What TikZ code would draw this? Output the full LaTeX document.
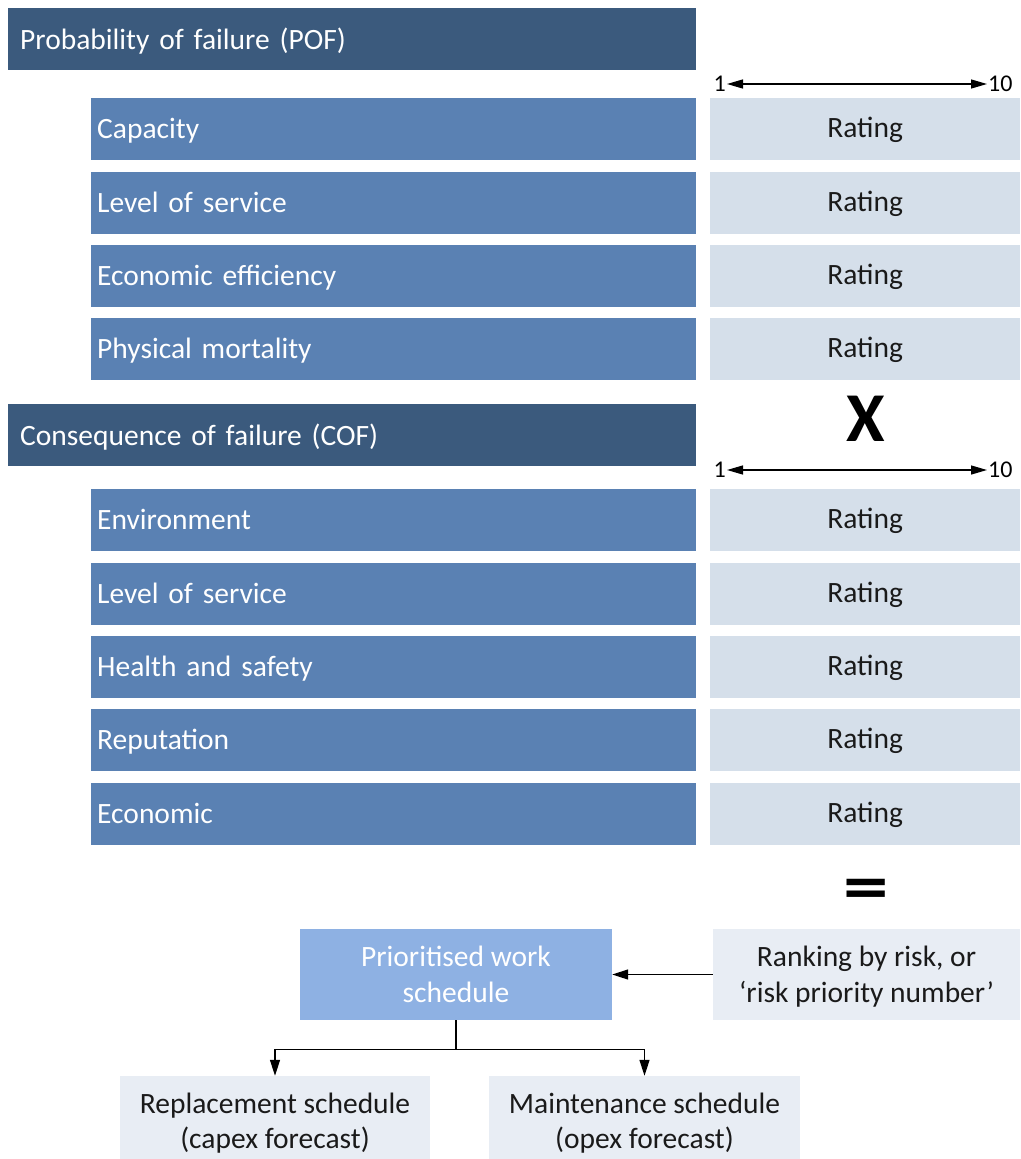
\documentclass[tikz,border=0pt]{standalone}
\usepackage{fontspec}
\setmainfont{Carlito}
\usetikzlibrary{arrows.meta}
\definecolor{hdrblue}{HTML}{3B5A7D}
\definecolor{itemblue}{HTML}{5A81B3}
\definecolor{ratingbg}{HTML}{D5DFEA}
\definecolor{prioblue}{HTML}{8EB1E3}
\definecolor{paleblue}{HTML}{E8EDF4}
\definecolor{inkgray}{HTML}{1A1A1A}
\tikzset{
  header/.style={fill=hdrblue, text=white, anchor=north west, minimum height=62pt,
    text width=664pt, inner xsep=12pt, inner ysep=0pt, align=left,
    text height=24pt, text depth=4pt, font=\fontsize{29.5}{34}\selectfont},
  itembox/.style={fill=itemblue, text=white, anchor=north west, minimum height=62pt,
    text width=593pt, inner xsep=6pt, inner ysep=0pt, align=left,
    text height=22pt, text depth=4pt, font=\fontsize{29.5}{34}\selectfont},
  ratingbox/.style={fill=ratingbg, text=inkgray, anchor=north west, minimum height=62pt,
    minimum width=310pt, inner sep=0pt, text height=20pt, text depth=4pt,
    font=\fontsize{29.5}{34}\selectfont},
  scalelbl/.style={text=black, inner sep=1pt, font=\fontsize{24}{28}\selectfont},
  opsign/.style={text=black, inner sep=0pt, font=\fontsize{70}{70}\selectfont\bfseries},
  conn/.style={draw=black, line width=1.3pt},
  tip/.style={-{Triangle[length=16pt,width=10pt]}},
  twotips/.style={{Triangle[length=16pt,width=9pt]}-{Triangle[length=16pt,width=9pt]}},
  lightbox/.style={fill=paleblue, text=inkgray, inner sep=0pt, align=center,
    font=\fontsize{29.5}{36}\selectfont},
}
\begin{document}
\begin{tikzpicture}[x=1pt,y=-1pt]
\useasboundingbox (0,0) rectangle (1020,1159);

% Probability of failure block
\node[header] (pof) at (8,8) {Probability of failure (POF)};
\node[scalelbl, anchor=east] (pA) at (727,84) {1};
\node[scalelbl, anchor=west] (pB) at (987,84) {10};
\draw[conn, twotips] (pA) -- (pB);

\node[itembox] (p1) at (91,98) {Capacity};
\node[ratingbox] (r1) at (710,98) {Rating};
\node[itembox] (p2) at (91,172) {Level of service};
\node[ratingbox] (r2) at (710,172) {Rating};
\node[itembox] (p3) at (91,245) {Economic efficiency};
\node[ratingbox] (r3) at (710,245) {Rating};
\node[itembox] (p4) at (91,318) {Physical mortality};
\node[ratingbox] (r4) at (710,318) {Rating};

\node[opsign] (times) at (866,419) {X};

% Consequence of failure block
\node[header] (cof) at (8,404) {Consequence of failure (COF)};
\node[scalelbl, anchor=east] (cA) at (727,470) {1};
\node[scalelbl, anchor=west] (cB) at (987,470) {10};
\draw[conn, twotips] (cA) -- (cB);

\node[itembox] (c1) at (91,489) {Environment};
\node[ratingbox] (s1) at (710,489) {Rating};
\node[itembox] (c2) at (91,563) {Level of service};
\node[ratingbox] (s2) at (710,563) {Rating};
\node[itembox] (c3) at (91,636) {Health and safety};
\node[ratingbox] (s3) at (710,636) {Rating};
\node[itembox] (c4) at (91,709) {Reputation};
\node[ratingbox] (s4) at (710,709) {Rating};
\node[itembox] (c5) at (91,783) {Economic};
\node[ratingbox] (s5) at (710,783) {Rating};

\node[opsign] (equals) at (866,895) {\scalebox{1.3}[1]{=}};

% Outcome boxes
\node[lightbox, fill=prioblue, text=white, minimum width=312pt, minimum height=91pt,
  text height=55pt, text depth=0pt]
  (prio) at (456,974.5) {Prioritised work\\schedule};
\node[lightbox, minimum width=307pt, minimum height=91pt,
  text height=55pt, text depth=0pt]
  (rank) at (866.5,974.5) {Ranking by risk, or\\‘risk priority number’};
\node[lightbox, minimum width=310pt, minimum height=83pt,
  font=\fontsize{29.5}{34.5}\selectfont, text height=61pt, text depth=0pt]
  (repl) at (275,1117.5) {Replacement schedule\\(capex forecast)};
\node[lightbox, minimum width=311pt, minimum height=83pt,
  font=\fontsize{29.5}{34.5}\selectfont, text height=61pt, text depth=0pt]
  (maint) at (644.5,1117.5) {Maintenance schedule\\(opex forecast)};

\draw[conn, tip] (rank.west) -- (prio.east);
\draw[conn] (prio.south) -- ++(0,29) coordinate (fork);
\draw[conn, tip] (fork) -| (repl.north);
\draw[conn, tip] (fork) -| (maint.north);
\end{tikzpicture}
\end{document}
